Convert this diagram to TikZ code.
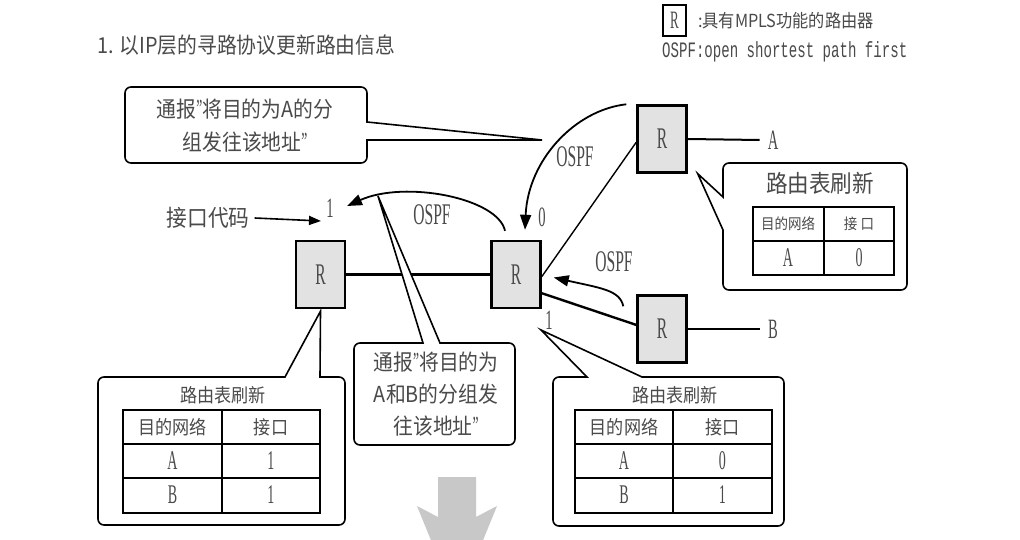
\documentclass[tikz,border=0pt]{standalone}
\usepackage{fontspec}
\usetikzlibrary{arrows.meta,calc}
\newfontfamily\cjk[FakeStretch=0.9]{Noto Sans CJK SC}
\newfontfamily\narrowserif[FakeStretch=0.52]{Liberation Serif}
\newfontfamily\narrowmono[FakeStretch=0.64]{Liberation Mono}
\definecolor{inkgray}{HTML}{4A4A4A}
\definecolor{routerfill}{HTML}{E2E2E2}
\definecolor{bigarrow}{HTML}{C8C8C8}
\newcommand{\narrowquote}{{\narrowserif\fontsize{26}{26}\selectfont ”}}

\begin{document}
\begin{tikzpicture}[x=1pt,y=-1pt,
  lbl/.style={inner sep=0pt,text=inkgray},
  latin/.style={lbl,font=\narrowserif\fontsize{28}{28}\selectfont},
  celltext/.style={lbl,font=\narrowserif\fontsize{27}{27}\selectfont},
  cjktext/.style={lbl,font=\cjk\fontsize{#1}{#1}\selectfont},
  router/.style={draw=black,line width=2.4pt,fill=routerfill,minimum width=49pt,
    minimum height=67pt,inner sep=0pt,text=inkgray,
    font=\narrowserif\fontsize{30}{30}\selectfont},
  conn/.style={line width=1.6pt},
  ospf/.style={line width=1.8pt,-{Triangle[length=15pt,width=11pt]}},
  callout/.style={draw=black,line width=1.6pt,fill=white,line join=miter},
  grid/.style={line width=2.4pt},
]
\fill[white] (0,0) rectangle (1020,540);
\useasboundingbox (0,0) rectangle (1020,540);

% heading and legend
\node[cjktext=22,anchor=west] (title) at (97,45) {1. 以IP层的寻路协议更新路由信息};
\node[draw=black,line width=2pt,minimum width=23pt,minimum height=31pt,inner sep=0pt,
  text=inkgray,font=\narrowserif\fontsize{25}{25}\selectfont] (legR) at (674.5,20.5) {R};
\node[cjktext=18,anchor=west] (legT) at (698,21) {:具有MPLS功能的路由器};
\node[lbl,anchor=west,font=\narrowmono\fontsize{22}{22}\selectfont] (legO) at (662,52) {OSPF:open shortest path first};

% routers
\node[router] (RA) at (662,139) {R};
\node[router] (RM) at (516,274.5) {R};
\node[router] (RL) at (320.5,274.5) {R};
\node[router] (RB) at (662,329) {R};

% destinations and interface numbers
\node[latin] (destA) at (773,140) {A};
\node[latin] (destB) at (773,329) {B};
\node[latin] (p1L) at (330,208) {1};
\node[latin] (p0) at (542,217) {0};
\node[latin] (p1M) at (549,320) {1};

% links between routers
\draw[line width=2.4pt] (RL) -- (RM);
\draw[line width=1.4pt] (RM.-5) -- (RA.187);
\draw[line width=2.4pt] (RM.-36) -- (RB.171);
\draw[line width=2pt] (RA.east) -- ([xshift=-8pt]destA.west);
\draw[line width=1.6pt] (RB.east) -- ([xshift=-8pt]destB.west);

% interface code label
\node[cjktext=23] (code) at (208,218) {接口代码};
\coordinate (codetip) at (321,221);
\draw[conn,-{Triangle[length=12pt,width=9pt]}] ([xshift=5pt]code.east) -- (codetip);

% callout tips
\coordinate (tipA) at (542,140);
\coordinate (tipR) at ([xshift=10pt]RA.south east);
\coordinate (tipL) at ([yshift=-2pt]RL.south);
\coordinate (tipM) at (378,196);
\coordinate (tipB) at (541,330);

% callout balloons
\draw[callout] (tipA) -- (367,140) -- (367,150) [rounded corners=6pt] -- (367,163) -- (125,163)
  -- (125,87) -- (367,87) -- (367,110) [sharp corners] -- (367,122) -- cycle;
\draw[callout] (tipR) -- (723,230) -- (723,245) [rounded corners=6pt] -- (723,290) -- (907,290)
  -- (907,163) -- (723,163) -- (723,185) [sharp corners] -- (723,197) -- cycle;
\draw[callout] (tipL) -- (285,377) -- (270,377) [rounded corners=6pt] -- (98,377) -- (98,525)
  -- (345,525) -- (345,377) -- (332,377) [sharp corners] -- (320,377) -- cycle;
\draw[callout] (tipM) -- (423,343) -- (410,343) [rounded corners=6pt] -- (354,343) -- (354,445)
  -- (515,445) -- (515,343) -- (452,343) [sharp corners] -- (440,343) -- cycle;
\draw[callout] (tipB) -- (642,377) -- (660,377) [rounded corners=6pt] -- (784,377) -- (784,526)
  -- (553,526) -- (553,377) -- (575,377) [sharp corners] -- (587,377) -- cycle;

% messages
\node[cjktext=22,align=center,font=\cjk\fontsize{22}{33}\selectfont] (msgA) at (245,126)
  {通报\narrowquote 将目的为A的分\\组发往该地址\narrowquote};
\node[cjktext=22,align=center,font=\cjk\fontsize{22}{32}\selectfont] (msgAB) at (436,394)
  {通报\narrowquote 将目的为\\A和B的分组发\\往该地址\narrowquote};

% routing table of the upper right router
\node[cjktext=24] (tA) at (820,183) {路由表刷新};
\draw[grid] (753,207) rectangle (894,275);
\draw[grid] (753,241) -- (894,241);
\draw[line width=1.6pt] (824,207) -- (824,275);
\node[cjktext=15] (tAh1) at (788,224) {目的网络};
\node[cjktext=15] (tAh2) at (859,224) {接\ 口};
\node[celltext] (tAa) at (788,258) {A};
\node[celltext] (tAb) at (859,258) {0};

% routing table of the left router
\node[cjktext=19] (tL) at (223,395) {路由表刷新};
\draw[grid] (123,410) rectangle (320,513);
\draw[grid] (123,444) -- (320,444);
\draw[grid] (123,478) -- (320,478);
\draw[grid] (222,410) -- (222,513);
\node[cjktext=19] (tLh1) at (172.5,427) {目的网络};
\node[cjktext=19] (tLh2) at (271,427) {接口};
\node[celltext] (tLa) at (172.5,461) {A};
\node[celltext] (tLb) at (271,461) {1};
\node[celltext] (tLc) at (172.5,495) {B};
\node[celltext] (tLd) at (271,495) {1};

% routing table of the middle router
\node[cjktext=19] (tR) at (675,395) {路由表刷新};
\draw[grid] (575,410) rectangle (772,513);
\draw[grid] (575,444) -- (772,444);
\draw[grid] (575,478) -- (772,478);
\draw[grid] (673,410) -- (673,513);
\node[cjktext=19] (tRh1) at (624,427) {目的网络};
\node[cjktext=19] (tRh2) at (722.5,427) {接口};
\node[celltext] (tRa) at (624,461) {A};
\node[celltext] (tRb) at (722.5,461) {0};
\node[celltext] (tRc) at (624,495) {B};
\node[celltext] (tRd) at (722.5,495) {1};

% OSPF advertisements
\coordinate (t2) at (347,206);
\draw[ospf] ([xshift=-10pt]RA.north west) .. controls (575,110) and (528,160) .. ([xshift=9pt,yshift=10pt]RM.north);
\draw[ospf] ([xshift=-11pt,yshift=9pt]RM.north) .. controls (498,198) and (405,180) .. (t2);
\draw[ospf] ([xshift=-13pt,yshift=-12pt]RB.north west) .. controls (620,290) and (600,288) .. ([xshift=12pt,yshift=-3pt]RM.east);
\node[latin,font=\narrowserif\fontsize{30}{30}\selectfont] (o1) at (575,157) {OSPF};
\node[latin,font=\narrowserif\fontsize{30}{30}\selectfont] (o2) at (432,215) {OSPF};
\node[latin,font=\narrowserif\fontsize{30}{30}\selectfont] (o3) at (614,262) {OSPF};

% next step arrow
\begin{scope}
\clip (0,0) rectangle (1020,540);
\fill[bigarrow] (438,477) -- (476,477) -- (476,517) -- (497,506) -- (457,604)
  -- (417,506) -- (438,517) -- cycle;
\end{scope}
\end{tikzpicture}
\end{document}
